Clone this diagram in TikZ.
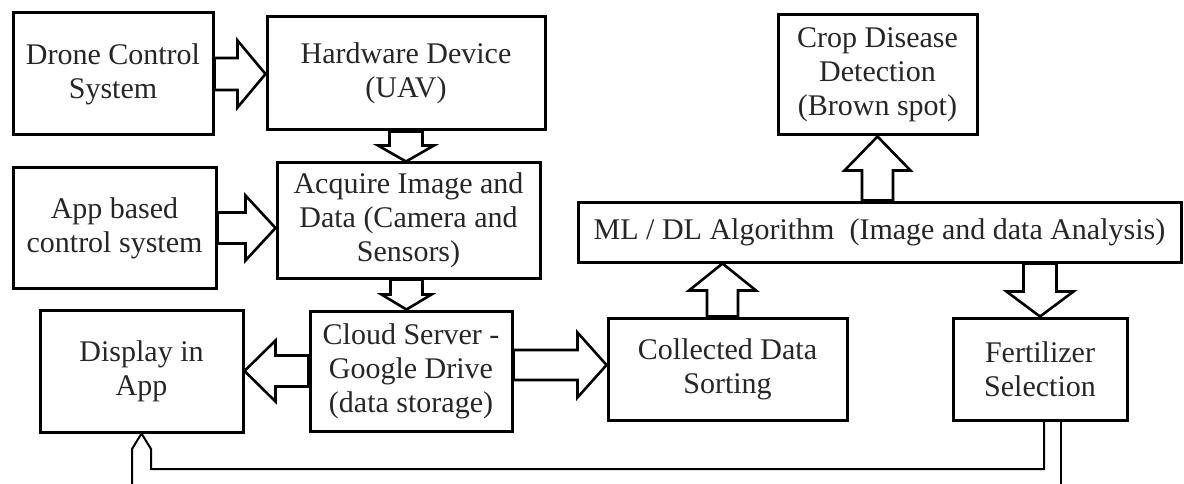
\documentclass[tikz,border=0pt]{standalone}
\usepackage{fontspec}
\setmainfont{Liberation Serif}
\usetikzlibrary{calc}

\tikzset{
  box/.style={draw, line width=3pt, align=center, inner sep=0pt,
    font=\fontsize{30}{34}\selectfont, text=black!85},
  blk/.style={draw, line width=2.6pt, fill=white, line join=miter},
  thinline/.style={draw, line width=2pt, line join=miter},
}

% Hollow block arrow along x: #1 start, #2 tip, #3 shaft half width,
% #4 head half width, #5 head length
\newcommand\harrow[5]{%
  \draw[blk] let \p1=(#1), \p2=(#2), \n1={sign(\x2-\x1)} in
    (\x1,\y1+#3) -- (\x2-\n1*#5,\y1+#3) -- (\x2-\n1*#5,\y1+#4) -- (\x2,\y1)
    -- (\x2-\n1*#5,\y1-#4) -- (\x2-\n1*#5,\y1-#3) -- (\x1,\y1-#3) -- cycle;}
% Hollow block arrow along y, same arguments
\newcommand\varrow[5]{%
  \draw[blk] let \p1=(#1), \p2=(#2), \n1={sign(\y2-\y1)} in
    (\x1+#3,\y1) -- (\x1+#3,\y2-\n1*#5) -- (\x1+#4,\y2-\n1*#5) -- (\x1,\y2)
    -- (\x1-#4,\y2-\n1*#5) -- (\x1-#3,\y2-\n1*#5) -- (\x1-#3,\y1) -- cycle;}

\begin{document}
\begin{tikzpicture}[x=1pt,y=-1pt]
\useasboundingbox (0,0) rectangle (1184,484);

% blocks
\node[box, minimum width=200pt, minimum height=122pt] (drone) at (113,74) {Drone Control\\System};
\node[box, minimum width=278pt, minimum height=113pt] (hw) at (406,73.5) {Hardware Device\\(UAV)};
\node[box, minimum width=203pt, minimum height=120pt] (app) at (114.5,228) {App based\\control system};
\node[box, minimum width=263pt, minimum height=115pt] (acq) at (408.5,220.5) {Acquire Image and\\Data (Camera and\\Sensors)};
\node[box, minimum width=203pt, minimum height=122pt] (disp) at (141.5,371) {Display in\\App};
\node[box, minimum width=202pt, minimum height=120pt] (cloud) at (411,371) {Cloud Server -\\Google Drive\\(data storage)};
\node[box, minimum width=239pt, minimum height=102pt] (coll) at (727.5,369) {Collected Data\\Sorting};
\node[box, minimum width=174pt, minimum height=102pt] (fert) at (1040,369) {Fertilizer\\Selection};
\node[box, minimum width=603pt, minimum height=60pt] (ml) at (879.5,232) {ML / DL Algorithm~ (Image and data Analysis)};
\node[box, minimum width=199pt, minimum height=120pt] (crop) at (877.5,75) {Crop Disease\\Detection\\(Brown spot)};

% block arrows
\harrow{drone.east}{hw.west}{16pt}{33.5pt}{28pt}
\harrow{app.east}{acq.west}{15.5pt}{32.5pt}{30pt}
\harrow{cloud.west}{disp.east}{15.5pt}{30.5pt}{31pt}
\harrow{[yshift=6pt]cloud.east}{coll.west}{15pt}{32.5pt}{29pt}
\varrow{hw.south}{acq.north}{16.5pt}{28pt}{16pt}
\varrow{[xshift=-2pt]acq.south}{cloud.north}{16pt}{25pt}{15pt}
\varrow{[xshift=-5pt]coll.north}{ml.south}{15.5pt}{33.5pt}{27pt}
\varrow{ml.south -| fert.north}{fert.north}{16.5pt}{33.5pt}{25pt}
\varrow{ml.north -| crop.south}{crop.south}{15.5pt}{33pt}{34pt}

% feedback lines along the bottom
\coordinate (lowA) at (132,484);
\coordinate (lowB) at (1061,484);
\coordinate (bend) at (151,469);
\coordinate (fertL) at ([xshift=4pt]fert.south);
\coordinate (fertR) at ([xshift=21pt]fert.south);
\draw[thinline] (lowA) -- (132,449) -- (disp.south) -- (151,449) -- (bend)
  -- (bend -| fertL) -- (fertL);
\draw[thinline] (fertR) -- (lowB);
\end{tikzpicture}
\end{document}
